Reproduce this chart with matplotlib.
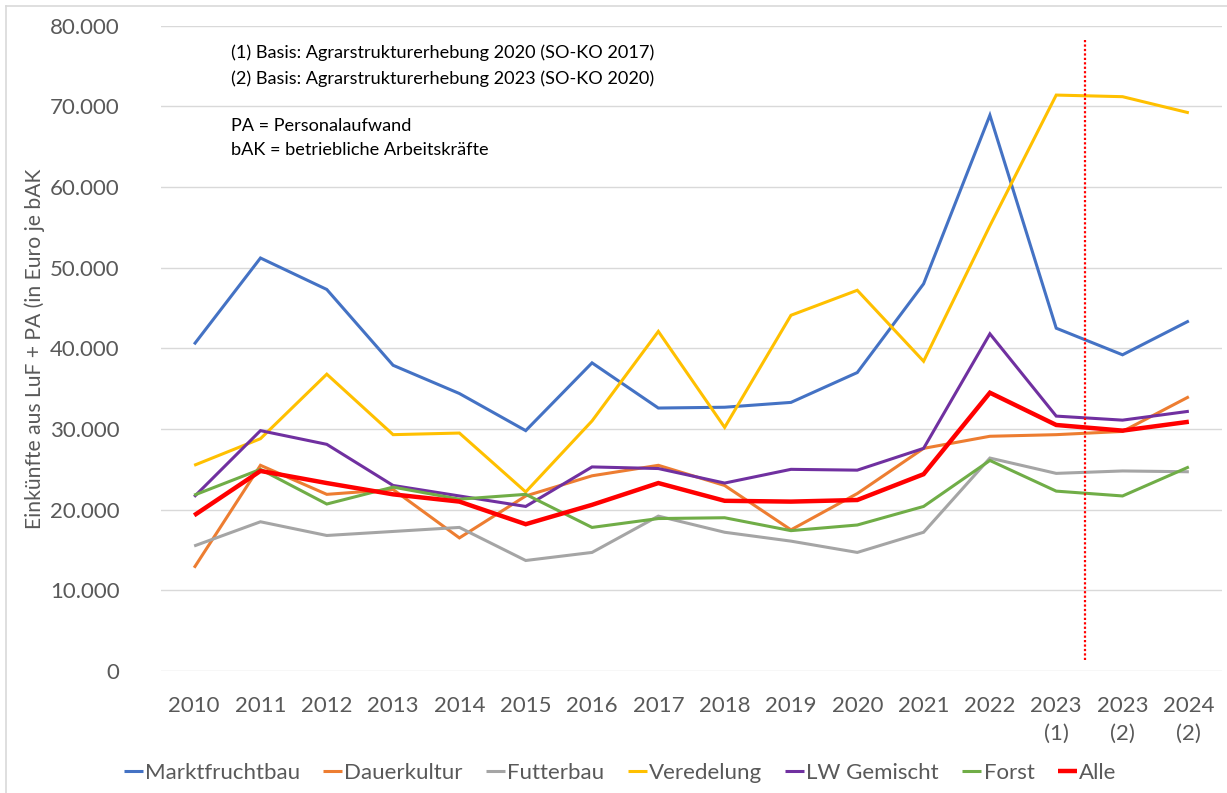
import matplotlib
matplotlib.use("Agg")
import matplotlib.pyplot as plt
from matplotlib.ticker import FuncFormatter, MultipleLocator
from matplotlib.lines import Line2D

# Categories (years; the two 2023 values use different survey bases)
categories = ["2010", "2011", "2012", "2013", "2014", "2015", "2016", "2017",
              "2018", "2019", "2020", "2021", "2022", "2023\n(1)", "2023\n(2)", "2024\n(2)"]

# Einkünfte aus LuF + PA je bAK (Euro)
marktfruchtbau = [40500, 51200, 47300, 37900, 34400, 29800, 38200, 32600,
                  32700, 33300, 37000, 48000, 68900, 42500, 39200, 43400]
dauerkultur = [12800, 25500, 21900, 22500, 16500, 21700, 24200, 25500,
               23000, 17500, 22000, 27600, 29100, 29300, 29700, 34000]
futterbau = [15500, 18500, 16800, 17300, 17800, 13700, 14700, 19200,
             17200, 16100, 14700, 17200, 26400, 24500, 24800, 24700]
veredelung = [25500, 28800, 36800, 29300, 29500, 22200, 31000, 42100,
              30200, 44100, 47200, 38400, 55200, 71400, 71200, 69200]
lw_gemischt = [21600, 29800, 28100, 23000, 21700, 20400, 25300, 25100,
               23300, 25000, 24900, 27600, 41800, 31600, 31100, 32200]
forst = [21800, 25000, 20700, 22800, 21300, 21900, 17800, 18900,
         19000, 17400, 18100, 20400, 26100, 22300, 21700, 25300]
alle = [19300, 24800, 23300, 21900, 21000, 18200, 20600, 23300,
        21100, 21000, 21200, 24400, 34500, 30500, 29800, 30900]

series_names = ["Marktfruchtbau", "Dauerkultur", "Futterbau", "Veredelung",
                "LW Gemischt", "Forst", "Alle"]
series_values = [marktfruchtbau, dauerkultur, futterbau, veredelung,
                 lw_gemischt, forst, alle]
series_colors = ["#4472C4", "#ED7D31", "#A5A5A5", "#FFC000",
                 "#7030A0", "#70AD47", "#FF0000"]
series_widths = [2.2, 2.2, 2.2, 2.2, 2.2, 2.2, 3.2]

notes = ["(1) Basis: Agrarstrukturerhebung 2020 (SO-KO 2017)",
         "(2) Basis: Agrarstrukturerhebung 2023 (SO-KO 2020)",
         "PA = Personalaufwand",
         "bAK = betriebliche Arbeitskräfte"]
y_label = "Einkünfte aus LuF + PA (in Euro je bAK"

# position of the break between the two survey bases (category units)
basis_break = 13.43

plt.rcParams["font.family"] = ["Lato", "DejaVu Sans"]
text_gray = "#595959"
grid_gray = "#D9D9D9"

W, H = 1227, 793
fig = plt.figure(figsize=(W / 100, H / 100), dpi=100)
fig.patch.set_facecolor("white")

left, right = 161 / W, 1222 / W
bottom, top = 1 - 671 / H, 1 - 25.7 / H
ax = fig.add_axes([left, bottom, right - left, top - bottom])

x = list(range(len(categories)))
for name, vals, col, lw in zip(series_names, series_values, series_colors, series_widths):
    ax.plot(x, vals, color=col, lw=lw, label=name, solid_joinstyle="miter",
            solid_capstyle="butt", zorder=3)

ax.set_xlim(-0.5, len(categories) - 0.5)
ax.set_ylim(0, 80000)
ax.yaxis.set_major_locator(MultipleLocator(10000))
ax.yaxis.set_major_formatter(FuncFormatter(lambda v, p: f"{int(v):,}".replace(",", ".")))
ax.set_xticks(x)
ax.set_xticklabels(categories)
ax.grid(axis="y", color=grid_gray, lw=1.0, zorder=0)
ax.set_axisbelow(True)
for s in ax.spines.values():
    s.set_visible(False)
ax.tick_params(axis="both", length=0, labelsize=16, colors=text_gray)
ax.tick_params(axis="x", pad=18)
ax.tick_params(axis="y", pad=30)
for lbl in ax.get_xticklabels():
    lbl.set_linespacing(1.5)
    lbl.set_verticalalignment("top")

# dotted separator between survey bases
ax.axvline(basis_break, ymin=0.017, ymax=0.979, color="#FF0000", lw=1.6,
           ls=(0, (1, 1)), zorder=4)

# axis title
fig.text(35 / W, 1 - 349 / H, y_label, rotation=90, ha="center", va="center",
         fontsize=15.2, color=text_gray)

# notes
for txt, yy in zip(notes, [53, 79, 126, 150]):
    fig.text(231 / W, 1 - yy / H, txt, ha="left", va="center", fontsize=13.1,
             color="black")

# legend
leg = fig.legend(loc="center", bbox_to_anchor=(620 / W, 1 - 773 / H), ncol=7,
                 frameon=False, fontsize=16, handlelength=0.85, handletextpad=0.1,
                 columnspacing=1.05, labelcolor=text_gray)

# chart-area border (left and top edges)
fig.add_artist(Line2D([6 / W, 6 / W], [0, 1 - 6 / H], color=grid_gray, lw=1.2))
fig.add_artist(Line2D([6 / W, 1], [1 - 6 / H, 1 - 6 / H], color=grid_gray, lw=1.2))

fig.savefig("out.png", dpi=100, facecolor="white")
